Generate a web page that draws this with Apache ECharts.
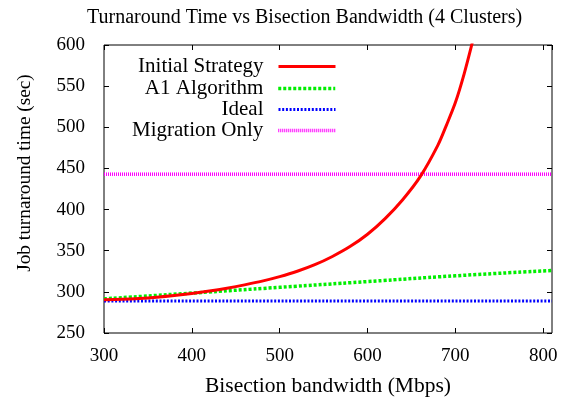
<!DOCTYPE html>
<html>
<head>
<meta charset="utf-8">
<script src="https://cdn.jsdelivr.net/npm/echarts@6/dist/echarts.min.js"></script>
<style>
  html, body { margin: 0; padding: 0; background: #fff; }
  #chart { width: 561px; height: 404px; }
</style>
</head>
<body>
<div id="chart"></div>
<script>
// Bisection bandwidth (Mbps) vs job turnaround time (sec)
const initialBw   = [300, 320, 340, 360, 380, 400, 420, 440, 460, 480, 500, 520, 540, 560, 580, 600, 620, 640, 660, 680, 690, 700, 710, 720];
const initialTime = [290.5, 291, 292, 293.5, 295.5, 298, 301, 304.5, 308.5, 313, 318.5, 325, 333, 343, 355, 370, 389, 412, 440, 478, 503, 530, 565, 606];

const a1Bw   = [300, 400, 500, 600, 700, 810];
const a1Time = [291.5, 298.5, 305.5, 312.5, 319.5, 326];

const idealBw   = [300, 810];
const idealTime = [289, 289];

const migrationBw   = [300, 810];
const migrationTime = [443, 443];

const seriesNames = ['Initial Strategy', 'A1 Algorithm', 'Ideal', 'Migration Only'];

const FONT = 'Liberation Serif';

// line look of each series, shared by the plot and its legend sample
const lineStyles = [
  { color: '#ff0000', width: 3, type: 'solid' },
  { color: '#00ee00', width: 3.5, type: [3, 2] },
  { color: '#0000ff', width: 3, type: [2, 1.7] },
  { color: '#ff00ff', width: 3.5, type: [1, 1] }
];

function pairs(xs, ys) { return xs.map((x, i) => [x, ys[i]]); }

const chart = echarts.init(document.getElementById('chart'), null, { renderer: 'canvas' });

// one legend block per entry so every row is right-aligned against its line sample
const legendTop = [56, 78, 99, 120];
const legends = seriesNames.map((name, i) => ({
  data: [name],
  right: 224,
  top: legendTop[i],
  align: 'right',
  itemWidth: 57,
  itemHeight: 22,
  padding: 0,
  selectedMode: false,
  itemStyle: { opacity: 0 },
  lineStyle: Object.assign({}, lineStyles[i]),
  textStyle: { fontFamily: FONT, fontSize: 21, color: '#000', padding: [0, 10, 0, 0] }
}));

const axisCommon = {
  type: 'value',
  splitLine: { show: false },
  axisLine: { show: false },
  axisTick: { show: true, inside: true, length: 5, lineStyle: { color: '#000', width: 1 } }
};

function lineSeries(i, xs, ys, extra) {
  return Object.assign({
    name: seriesNames[i], type: 'line', showSymbol: false, symbol: 'none',
    data: pairs(xs, ys),
    lineStyle: Object.assign({}, lineStyles[i]),
    itemStyle: { color: lineStyles[i].color }
  }, extra);
}

chart.setOption({
  animation: false,
  title: {
    text: 'Turnaround Time vs Bisection Bandwidth (4 Clusters)',
    left: 82,
    top: 3,
    textStyle: { fontFamily: FONT, fontSize: 20, fontWeight: 'normal', color: '#000' }
  },
  legend: legends,
  grid: {
    left: 104, right: 9, top: 45, bottom: 71,
    show: true, borderColor: '#000', borderWidth: 1, backgroundColor: 'transparent'
  },
  xAxis: [
    Object.assign({}, axisCommon, {
      position: 'bottom',
      min: 300, max: 810, interval: 100,
      name: 'Bisection bandwidth (Mbps)',
      nameLocation: 'middle',
      nameGap: 42,
      nameTextStyle: { fontFamily: FONT, fontSize: 21.5, color: '#000' },
      axisLabel: { showMaxLabel: false, margin: 14, fontFamily: FONT, fontSize: 19, color: '#000' }
    }),
    Object.assign({}, axisCommon, {
      position: 'top',
      min: 300, max: 810, interval: 100,
      axisLabel: { show: false }
    })
  ],
  yAxis: [
    Object.assign({}, axisCommon, {
      position: 'left',
      min: 250, max: 600, interval: 50,
      name: 'Job turnaround time (sec)',
      nameLocation: 'middle',
      nameGap: 70,
      nameTextStyle: { fontFamily: FONT, fontSize: 19.3, color: '#000', padding: [0, 0, 0, 32] },
      axisLabel: { margin: 19, fontFamily: FONT, fontSize: 19, color: '#000' }
    }),
    Object.assign({}, axisCommon, {
      position: 'right',
      min: 250, max: 600, interval: 50,
      axisLabel: { show: false }
    })
  ],
  series: [
    lineSeries(0, initialBw, initialTime, { smooth: 0.3, z: 5 }),
    lineSeries(1, a1Bw, a1Time, { smooth: true, z: 4 }),
    lineSeries(2, idealBw, idealTime, { z: 3 }),
    lineSeries(3, migrationBw, migrationTime, { z: 3 })
  ]
});
</script>
</body>
</html>
